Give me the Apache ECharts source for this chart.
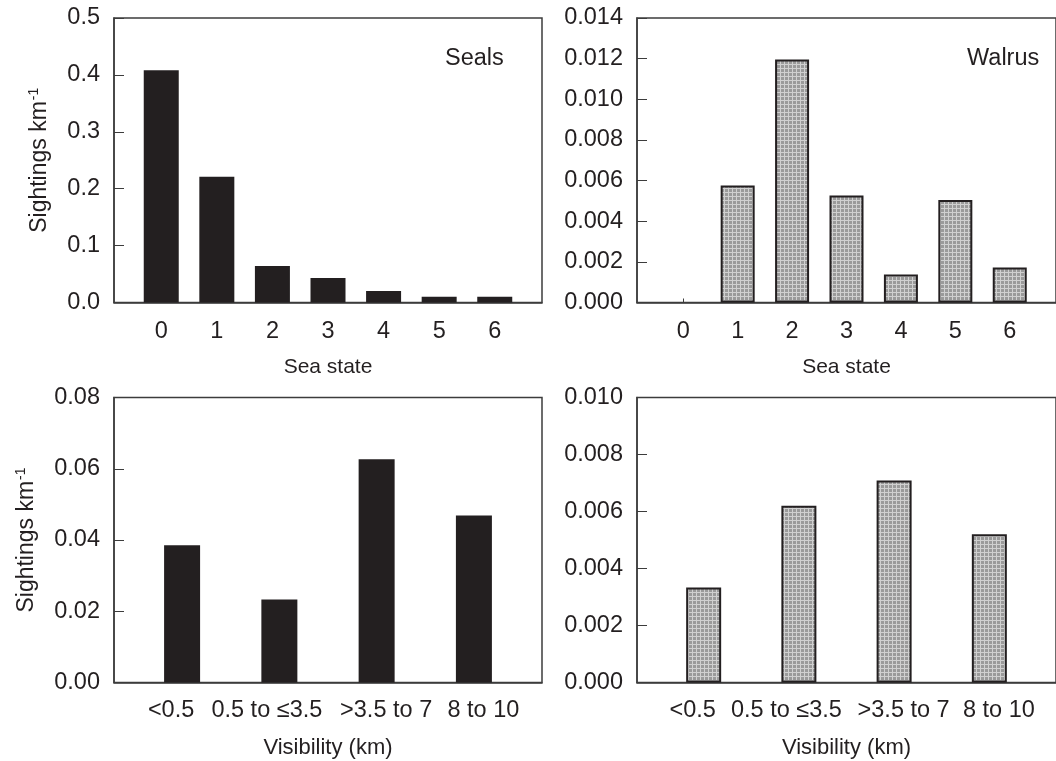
<!DOCTYPE html>
<html>
<head>
<meta charset="utf-8">
<script src="https://cdn.jsdelivr.net/npm/echarts@6/dist/echarts.min.js"></script>
<style>
html,body{margin:0;padding:0;background:#fff;}
#chart{width:1056px;height:761px;}
</style>
</head>
<body>
<div id="chart"></div>
<script>
// ---- data ----
const seaStates = ['0', '1', '2', '3', '4', '5', '6'];
const sealsBySeaState = [0.408, 0.221, 0.064, 0.043, 0.020, 0.010, 0.010];
const walrusBySeaState = [0, 0.00576, 0.01196, 0.00526, 0.00138, 0.00504, 0.00172];
const visibilityClasses = ['<0.5', '0.5 to \u22643.5', '>3.5 to 7', '8 to 10'];
const sealsByVisibility = [0.0385, 0.0233, 0.0627, 0.0469];
const walrusByVisibility = [0.00333, 0.0062, 0.00709, 0.0052];
const yTicksSealsSea = [0, 0.5, 0.1];       // min, max, step
const yTicksWalrusSea = [0, 0.014, 0.002];
const yTicksSealsVis = [0, 0.08, 0.02];
const yTicksWalrusVis = [0, 0.010, 0.002];
const panelLabels = ['Seals', 'Walrus'];
const xNames = ['Sea state', 'Visibility (km)'];
const yName = 'Sightings km{sup|-1}';

// ---- style ----
const INK = '#231f20';
const FRAME = '#3c3c3c';
const FONT = 'Liberation Sans, Arial, Helvetica, sans-serif';
const TICK_FONT = 23.5;
// horizontal nudges of the visibility labels (px), as set in the original figure
const visLabelShift = [-11, -12.5, 9.5, 9.5];

function hatch() {
  const c = document.createElement('canvas');
  c.width = 4; c.height = 4;
  const g = c.getContext('2d');
  g.fillStyle = '#9a9a9a';
  g.fillRect(0, 0, 4, 4);
  g.fillStyle = '#d0d0d0';
  g.fillRect(0, 0, 4, 1);
  g.fillRect(0, 0, 1, 4);
  return c;
}
const hatchPattern = { image: hatch(), repeat: 'repeat' };

const grids = [
  { left: 114, top: 18, width: 428, height: 284.5 },
  { left: 637, top: 18, width: 428, height: 284.5 },
  { left: 114, top: 397.5, width: 428, height: 285 },
  { left: 637, top: 397.5, width: 428, height: 285 }
];

function idx(n) { return Array.from({ length: n }, (_, i) => i); }

function xAxisFor(gi, cats, name, pad, nameSize, shifts, margin) {
  const vals = idx(cats.length);
  const rich = {};
  if (shifts) {
    shifts.forEach((s, i) => {
      rich['l' + i] = { fontSize: TICK_FONT, fontFamily: FONT, color: INK,
        padding: s < 0 ? [0, -2 * s, 0, 0] : [0, 0, 0, 2 * s] };
    });
  }
  return {
    type: 'value', gridIndex: gi,
    min: -pad, max: cats.length - 1 + pad,
    name: name, nameLocation: 'middle', nameGap: 54,
    nameTextStyle: { color: INK, fontSize: nameSize, fontFamily: FONT },
    axisLine: { show: true, onZero: false, lineStyle: { color: FRAME, width: 1.5 } },
    axisTick: { show: true, inside: true, length: 4, customValues: vals, lineStyle: { color: FRAME } },
    axisLabel: { show: true, customValues: vals, margin: margin, color: INK, fontSize: TICK_FONT, fontFamily: FONT,
      rich: rich,
      formatter: v => {
        const i = Math.round(v);
        return shifts ? '{l' + i + '|' + cats[i] + '}' : cats[i];
      } },
    splitLine: { show: false }
  };
}

function yAxisFor(gi, t, dec, withName, gap) {
  return {
    type: 'value', gridIndex: gi, min: t[0], max: t[1], interval: t[2],
    name: withName ? yName : '', nameLocation: 'middle', nameGap: gap, nameRotate: 90,
    nameTextStyle: { color: INK, fontSize: 23, fontFamily: FONT,
      rich: { sup: { fontSize: 14, verticalAlign: 'top', color: INK, fontFamily: FONT, padding: [0, 0, 11, 1] } } },
    axisLine: { show: true, onZero: false, lineStyle: { color: FRAME, width: 1.5 } },
    axisTick: { show: true, inside: true, length: 10, lineStyle: { color: FRAME } },
    axisLabel: { margin: 14, color: INK, fontSize: TICK_FONT, fontFamily: FONT, formatter: v => v.toFixed(dec) },
    splitLine: { show: false }
  };
}

function barSeries(gi, values, walrus, width) {
  return {
    type: 'bar', xAxisIndex: gi, yAxisIndex: gi,
    barWidth: width,
    data: values.map((v, i) => ({
      value: [i, v],
      itemStyle: v === 0 ? { borderWidth: 0 } : undefined
    })),
    itemStyle: walrus
      ? { color: hatchPattern, borderColor: INK, borderWidth: 2 }
      : { color: INK },
    silent: true
  };
}

const option = {
  animation: false,
  backgroundColor: '#fff',
  grid: grids.map(g => Object.assign({ show: true, borderColor: FRAME, borderWidth: 1.5, backgroundColor: 'transparent' }, g)),
  xAxis: [
    xAxisFor(0, seaStates, xNames[0], 0.85, 21, null, 17),
    xAxisFor(1, seaStates, xNames[0], 0.85, 21, null, 17),
    xAxisFor(2, visibilityClasses, xNames[1], 0.7, 22, visLabelShift, 16),
    xAxisFor(3, visibilityClasses, xNames[1], 0.7, 22, visLabelShift, 16)
  ],
  yAxis: [
    yAxisFor(0, yTicksSealsSea, 1, true, 62),
    yAxisFor(1, yTicksWalrusSea, 3, false, 0),
    yAxisFor(2, yTicksSealsVis, 2, true, 75),
    yAxisFor(3, yTicksWalrusVis, 3, false, 0)
  ],
  series: [
    barSeries(0, sealsBySeaState, false, 35),
    barSeries(1, walrusBySeaState, true, 34),
    barSeries(2, sealsByVisibility, false, 36),
    barSeries(3, walrusByVisibility, true, 35)
  ],
  title: [
    { text: panelLabels[0], left: 445, top: 47, padding: 0, textStyle: { color: INK, fontSize: 23.5, fontWeight: 'normal', fontFamily: FONT } },
    { text: panelLabels[1], left: 967, top: 47, padding: 0, textStyle: { color: INK, fontSize: 23.5, fontWeight: 'normal', fontFamily: FONT } }
  ]
};

const chart = echarts.init(document.getElementById('chart'), null, { renderer: 'canvas' });
chart.setOption(option);
</script>
</body>
</html>
